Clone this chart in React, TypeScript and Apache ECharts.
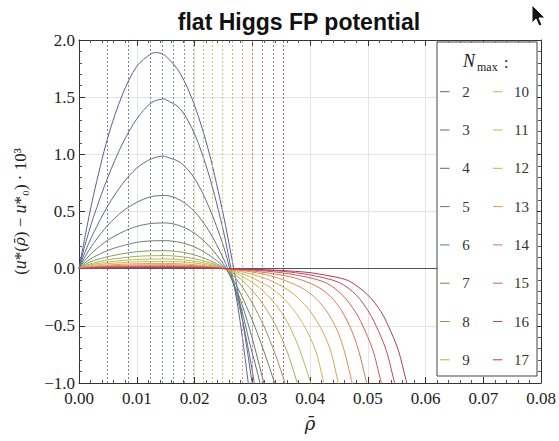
import React, { useEffect, useRef } from "react";
import * as echarts from "echarts";

const nMax = [2, 3, 4, 5, 6, 7, 8, 9, 10, 11, 12, 13, 14, 15, 16, 17];
const curveColors = [
  "#5a5f9c", "#5c6694", "#5d6d8b", "#5e7480", "#607b73", "#6a8466", "#8a9a5c", "#a8ab58",
  "#bfb656", "#cfb555", "#d9a653", "#dd9052", "#d97654", "#cf5e58", "#c24a5c", "#ae3a60",
];
// dashed vertical reference lines (one per N_max)
const expansionPoints = [
  0.0049, 0.0085, 0.0123, 0.0144, 0.0163, 0.0182, 0.0198, 0.0215,
  0.0231, 0.0248, 0.0266, 0.0283, 0.03, 0.0318, 0.0337, 0.0354,
];

const humpX = [0, 0.001, 0.0025, 0.005, 0.0075, 0.01, 0.0125, 0.015, 0.0175, 0.02, 0.0225, 0.025];

const hump2 = [0, 0.27, 0.64, 1.15, 1.52, 1.77, 1.88, 1.86, 1.71, 1.43, 1.02, 0.47];
const hump3 = [0, 0.2, 0.45, 0.8, 1.09, 1.31, 1.45, 1.48, 1.4, 1.18, 0.82, 0.33];
const hump4 = [0, 0.14, 0.31, 0.55, 0.74, 0.88, 0.96, 0.98, 0.93, 0.79, 0.54, 0.2];
const hump5 = [0, 0.1, 0.22, 0.38, 0.5, 0.58, 0.63, 0.64, 0.6, 0.5, 0.33, 0.09];
const hump6 = [0, 0.07, 0.15, 0.25, 0.32, 0.37, 0.395, 0.4, 0.375, 0.31, 0.2, 0.04];
const hump7 = [0, 0.05, 0.1, 0.16, 0.2, 0.23, 0.243, 0.245, 0.23, 0.19, 0.12, 0.02];
const hump8 = [0, 0.035, 0.07, 0.105, 0.13, 0.148, 0.156, 0.157, 0.147, 0.12, 0.075, 0.01];
const hump9 = [0, 0.025, 0.05, 0.077, 0.095, 0.108, 0.113, 0.114, 0.106, 0.087, 0.054, 0.008];
const hump10 = [0, 0.02, 0.038, 0.058, 0.071, 0.08, 0.084, 0.085, 0.079, 0.065, 0.04, 0.005];
const hump11 = [0, 0.015, 0.029, 0.044, 0.053, 0.06, 0.063, 0.064, 0.06, 0.049, 0.03, 0.004];
const hump12 = [0, 0.011, 0.021, 0.032, 0.039, 0.043, 0.0455, 0.046, 0.043, 0.035, 0.021, 0.003];
const hump13 = [0, 0.008, 0.016, 0.024, 0.029, 0.032, 0.0335, 0.034, 0.032, 0.026, 0.016, 0.002];
const hump14 = [0, 0.006, 0.012, 0.018, 0.021, 0.023, 0.0245, 0.025, 0.023, 0.019, 0.012, 0.0015];
const hump15 = [0, 0.004, 0.009, 0.013, 0.015, 0.017, 0.0178, 0.018, 0.017, 0.014, 0.009, 0.001];
const hump16 = [0, 0.003, 0.006, 0.009, 0.011, 0.012, 0.0128, 0.013, 0.012, 0.01, 0.006, 0.001];
const hump17 = [0, 0.002, 0.004, 0.006, 0.0075, 0.0085, 0.009, 0.009, 0.0085, 0.007, 0.0045, 0.0008];

// extra readings near the maxima
const peak2 = [[0.0135, 1.89]];
const peak3 = [[0.0148, 1.485]];
const peak4 = [[0.0148, 0.985]];

const tail2 = [[0.0265, 0.08], [0.0275, -0.2], [0.029, -0.67], [0.03, -1.01], [0.031, -1.37]];
const tail3 = [[0.0265, -0.05], [0.0275, -0.33], [0.0285, -0.68], [0.0295, -1.08], [0.0305, -1.5]];
const tail4 = [[0.0265, -0.08], [0.028, -0.38], [0.0295, -0.75], [0.0305, -1.05], [0.0315, -1.4]];
const tail5 = [[0.0265, -0.1], [0.028, -0.33], [0.0295, -0.64], [0.031, -0.93], [0.032, -1.15], [0.033, -1.4]];
const tail6 = [[0.0265, -0.1], [0.028, -0.28], [0.0295, -0.52], [0.031, -0.8], [0.032, -1.0], [0.033, -1.22]];
const tail7 = [[0.0265, -0.08], [0.028, -0.22], [0.03, -0.45], [0.032, -0.72], [0.034, -1.02], [0.035, -1.2]];
const tail8 = [[0.0265, -0.05], [0.028, -0.14], [0.03, -0.3], [0.032, -0.5], [0.034, -0.75], [0.0358, -1.02], [0.037, -1.2]];
const tail9 = [[0.0265, -0.035], [0.028, -0.09], [0.03, -0.19], [0.032, -0.32], [0.034, -0.49], [0.036, -0.72], [0.0378, -1.0], [0.039, -1.2]];
const tail10 = [[0.0265, -0.025], [0.028, -0.06], [0.03, -0.12], [0.032, -0.2], [0.034, -0.31], [0.036, -0.46], [0.038, -0.68], [0.04, -0.98], [0.041, -1.15]];
const tail11 = [[0.0265, -0.018], [0.028, -0.04], [0.03, -0.08], [0.033, -0.16], [0.035, -0.24], [0.037, -0.35], [0.039, -0.5], [0.041, -0.72], [0.0423, -0.98], [0.0435, -1.22]];
const tail12 = [[0.0265, -0.012], [0.028, -0.025], [0.03, -0.05], [0.033, -0.1], [0.036, -0.18], [0.038, -0.26], [0.04, -0.37], [0.0423, -0.56], [0.0437, -0.74], [0.0448, -0.98], [0.046, -1.25]];
const tail13 = [[0.0265, -0.008], [0.028, -0.015], [0.03, -0.03], [0.033, -0.06], [0.036, -0.11], [0.039, -0.18], [0.041, -0.26], [0.043, -0.38], [0.0448, -0.55], [0.046, -0.73], [0.0472, -0.98], [0.0485, -1.25]];
const tail14 = [[0.0265, -0.005], [0.03, -0.02], [0.035, -0.055], [0.038, -0.09], [0.041, -0.15], [0.0435, -0.24], [0.0455, -0.37], [0.0472, -0.54], [0.0485, -0.73], [0.0497, -0.98], [0.051, -1.25]];
const tail15 = [[0.0265, -0.003], [0.03, -0.012], [0.035, -0.035], [0.04, -0.08], [0.043, -0.13], [0.0456, -0.23], [0.0479, -0.38], [0.0496, -0.55], [0.051, -0.73], [0.0522, -0.97], [0.0535, -1.2]];
const tail16 = [[0.0265, -0.002], [0.03, -0.008], [0.035, -0.022], [0.04, -0.055], [0.045, -0.12], [0.048, -0.23], [0.0502, -0.38], [0.0519, -0.55], [0.0533, -0.73], [0.0545, -0.97], [0.0557, -1.2]];
const tail17 = [[0.0265, -0.001], [0.03, -0.006], [0.035, -0.016], [0.04, -0.035], [0.045, -0.08], [0.047, -0.114], [0.05, -0.23], [0.0523, -0.376], [0.054, -0.55], [0.0554, -0.73], [0.0566, -0.97], [0.058, -1.22]];

const humps = [hump2, hump3, hump4, hump5, hump6, hump7, hump8, hump9, hump10, hump11, hump12, hump13, hump14, hump15, hump16, hump17];
const peaks: number[][][] = [peak2, peak3, peak4];
const tails = [tail2, tail3, tail4, tail5, tail6, tail7, tail8, tail9, tail10, tail11, tail12, tail13, tail14, tail15, tail16, tail17];

const SERIF = "'Liberation Serif', 'DejaVu Serif', serif";

export default function App() {
  const ref = useRef<HTMLDivElement>(null);
  useEffect(() => {
    if (!ref.current) return;
    const chart = echarts.init(ref.current, undefined, { renderer: "svg" });

    const series: any[] = nMax.map((n, i) => {
      const data = humpX
        .map((x, j) => [x, humps[i][j]])
        .concat(peaks[i] || [])
        .concat(tails[i])
        .sort((a, b) => a[0] - b[0]);
      const mlData: any[] = [{ xAxis: expansionPoints[i] }];
      if (i === 0) {
        mlData.push({ yAxis: 0, lineStyle: { color: "#555", type: "solid", width: 1, opacity: 1 } });
      }
      return {
        type: "line",
        name: String(n),
        data,
        smooth: 0.3,
        showSymbol: false,
        symbol: "none",
        clip: true,
        z: 2 + i,
        lineStyle: { color: curveColors[i], width: 1 },
        itemStyle: { color: curveColors[i] },
        emphasis: { disabled: true },
        markLine: {
          silent: true,
          precision: 5,
          symbol: ["none", "none"],
          label: { show: false },
          emphasis: { disabled: true },
          lineStyle: { color: curveColors[i], type: [2, 2], width: 1, opacity: 0.8 },
          data: mlData,
        },
      };
    });

    const legendGraphics: any[] = [
      {
        type: "rect",
        shape: { x: 437, y: 42, width: 100, height: 334 },
        style: { fill: "#fff", stroke: "#444", lineWidth: 1 },
        z: 100,
      },
      { type: "text", x: 463, y: 70, z: 101, style: { text: "N", font: `italic 18px ${SERIF}`, fill: "#222", textVerticalAlign: "bottom" } },
      { type: "text", x: 477, y: 73, z: 101, style: { text: "max", font: `12px ${SERIF}`, fill: "#222", textVerticalAlign: "bottom" } },
      { type: "text", x: 504, y: 70, z: 101, style: { text: ":", font: `16px ${SERIF}`, fill: "#222", textVerticalAlign: "bottom" } },
    ];
    nMax.forEach((n, i) => {
      const col = i < 8 ? 0 : 1;
      const row = i % 8;
      const y = 91.7 + 38.3 * row;
      const lx = col === 0 ? 440 : 493;
      const tx = col === 0 ? 466 : 521.5;
      legendGraphics.push({
        type: "line",
        z: 101,
        shape: { x1: lx, y1: y, x2: lx + 9.5, y2: y },
        style: { stroke: curveColors[i], lineWidth: 1 },
      });
      legendGraphics.push({
        type: "text",
        z: 101,
        x: tx,
        y: y,
        style: { text: String(n), font: `15px ${SERIF}`, fill: "#333", textAlign: "center", textVerticalAlign: "middle" },
      });
    });
    legendGraphics.push({
      type: "polygon",
      z: 110,
      shape: { points: [[532, 5], [532, 23], [536, 19], [539, 26], [542, 25], [539, 18], [545, 18]] },
      style: { fill: "#111", stroke: "#fff", lineWidth: 1 },
    });

    const axisLineStyle = { color: "#333", width: 1 };
    const option: any = {
      animation: false,
      title: {
        text: "flat Higgs FP potential",
        left: 294,
        top: 5,
        textAlign: "center",
        textStyle: { fontFamily: "'Liberation Sans', Arial, sans-serif", fontWeight: "bold", fontSize: 23, color: "#111" },
      },
      grid: { left: 79, top: 40, width: 462, height: 343, containLabel: false },
      xAxis: [
        {
          type: "value",
          min: 0,
          max: 0.08,
          interval: 0.01,
          position: "bottom",
          axisLine: { show: true, onZero: false, lineStyle: axisLineStyle },
          axisTick: { show: true, inside: true, length: 6, lineStyle: axisLineStyle },
          minorTick: { show: true, splitNumber: 5, length: 3, lineStyle: { color: "#555" } },
          axisLabel: { formatter: (v: number) => v.toFixed(2), fontFamily: SERIF, fontSize: 17, color: "#222", margin: 7 },
          splitLine: { show: true, lineStyle: { color: "#e4e4e4", width: 1 } },
          name: "ρ\u0304",
          nameLocation: "middle",
          nameGap: 31,
          nameTextStyle: { fontFamily: "'DejaVu Serif', serif", fontStyle: "italic", fontSize: 18, color: "#222" },
        },
        {
          type: "value",
          min: 0,
          max: 0.08,
          interval: 0.01,
          position: "top",
          axisLine: { show: true, onZero: false, lineStyle: axisLineStyle },
          axisTick: { show: true, inside: true, length: 6, lineStyle: axisLineStyle },
          minorTick: { show: true, splitNumber: 5, length: 3, lineStyle: { color: "#555" } },
          axisLabel: { show: false },
          splitLine: { show: false },
        },
      ],
      yAxis: [
        {
          type: "value",
          min: -1,
          max: 2,
          interval: 0.5,
          position: "left",
          axisLine: { show: true, onZero: false, lineStyle: axisLineStyle },
          axisTick: { show: true, inside: true, length: 6, lineStyle: axisLineStyle },
          minorTick: { show: true, splitNumber: 5, length: 3, lineStyle: { color: "#555" } },
          axisLabel: {
            formatter: (v: number) => v.toFixed(1).replace("-", "\u2212"),
            fontFamily: SERIF,
            fontSize: 17,
            color: "#222",
            margin: 4,
          },
          splitLine: { show: true, lineStyle: { color: "#e4e4e4", width: 1 } },
          name: "{p|(}{i|u}{p|*(}{r|ρ\u0304}{p|) \u2212 }{i|u}{p|*\u2080) · 10\u00B3}",
          nameLocation: "middle",
          nameRotate: 90,
          nameGap: 50,
          nameTextStyle: {
            fontFamily: SERIF,
            fontSize: 17,
            color: "#222",
            rich: {
              p: { fontFamily: SERIF, fontSize: 17, color: "#222" },
              i: { fontFamily: SERIF, fontStyle: "italic", fontSize: 18, color: "#222" },
              r: { fontFamily: "'DejaVu Serif', serif", fontStyle: "italic", fontSize: 15, color: "#222" },
            },
          },
        },
        {
          type: "value",
          min: -1,
          max: 2,
          interval: 0.5,
          position: "right",
          axisLine: { show: true, onZero: false, lineStyle: axisLineStyle },
          axisTick: { show: true, inside: true, length: 6, lineStyle: axisLineStyle },
          minorTick: { show: true, splitNumber: 5, length: 3, lineStyle: { color: "#555" } },
          axisLabel: { show: false },
          splitLine: { show: false },
        },
      ],
      series,
      graphic: legendGraphics,
    };
    chart.setOption(option);
    return () => chart.dispose();
  }, []);
  return <div ref={ref} style={{ position: "absolute", left: 0, top: 0, width: 559, height: 441 }} />;
}
